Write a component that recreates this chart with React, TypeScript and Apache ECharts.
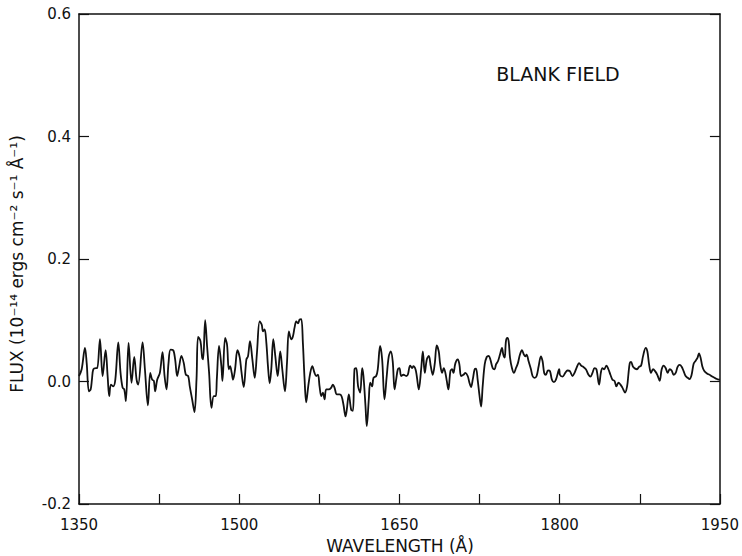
import React, { useEffect, useRef } from "react";
import * as echarts from "echarts";

const wavelength = [
  1350, 1352.5, 1355.6, 1357.2, 1359.3, 1360.9, 1362.1, 1363.4, 1365.9, 1367.1,
  1369.6, 1372.1, 1374.9, 1376.8, 1378.3, 1379.9, 1382.1, 1384.0, 1386.8, 1388.9,
  1390.8, 1392.4, 1393.9, 1396.4, 1399.2, 1401.7, 1403.9, 1405.4, 1409.5, 1411.7,
  1414.5, 1416.7, 1418.5, 1420.1, 1421.3, 1423.2, 1425.7, 1428.2, 1430.1, 1431.9,
  1433.8, 1435.7, 1438.2, 1440.0, 1441.9, 1443.8, 1445.9, 1448.1, 1450.0, 1452.2,
  1453.7, 1455.9, 1458.1, 1460.0, 1461.5, 1463.7, 1465.3, 1466.2, 1468.1, 1469.9,
  1471.8, 1474.0, 1476.2, 1478.0, 1479.0, 1481.1, 1483.3, 1484.3, 1486.8, 1488.6,
  1490.2, 1491.4, 1493.0, 1494.2, 1496.1, 1498.3, 1500.5,
  1502.0, 1504.2, 1506.7, 1508.2, 1510.1, 1512.3, 1514.5, 1516.6, 1519.1, 1521.0,
  1522.3, 1523.8, 1525.4, 1526.9, 1528.5, 1530.0, 1531.9, 1533.8, 1536.0, 1538.4,
  1540.3, 1542.8, 1544.7, 1546.5, 1548.7, 1550.3, 1551.8, 1553.4, 1555.0, 1556.5,
  1558.1, 1559.6, 1561.2, 1562.7, 1564.6, 1566.5, 1568.4, 1570.5, 1572.1, 1573.7,
  1575.2, 1576.8, 1578.3, 1579.9, 1581.4, 1583.9, 1586.1, 1587.7, 1589.2, 1591.4,
  1593.9, 1595.8, 1597.6, 1599.5, 1600.7, 1602.6, 1604.8, 1606.4, 1607.9, 1609.5,
  1611.3, 1613.2, 1615.1, 1616.3, 1618.2, 1619.4, 1621.3, 1622.6, 1624.4, 1625.7,
  1628.2, 1629.7, 1631.9, 1633.8, 1636.0, 1638.1, 1640.0, 1641.9, 1643.7,
  1645.4, 1646.9, 1648.5, 1650.0, 1651.6, 1653.8, 1656.3, 1657.8, 1660.0, 1661.9,
  1663.1, 1665.0, 1666.2, 1668.1, 1670.3, 1671.9, 1673.7, 1675.6, 1677.5, 1679.3,
  1681.2, 1683.1, 1684.9, 1686.8, 1688.0, 1689.9, 1691.5, 1693.0, 1694.3, 1695.8,
  1697.7, 1699.3, 1700.5, 1702.4, 1704.6, 1706.1, 1707.7, 1709.9, 1711.7, 1713.9,
  1715.5, 1717.0, 1718.6, 1720.4, 1721.7, 1723.2, 1724.8, 1726.4, 1727.9, 1729.8,
  1731.7, 1733.5, 1735.1, 1737.3, 1739.1, 1740.4, 1742.2, 1744.1, 1746.0, 1747.2,
  1748.5, 1749.7, 1751.0, 1752.2, 1753.5, 1755.3, 1757.2, 1759.1, 1760.9, 1762.8,
  1764.7, 1766.5, 1767.8, 1769.0, 1770.9, 1773.1, 1774.6, 1776.5, 1778.4, 1780.3,
  1782.4, 1784.0, 1785.5, 1787.1, 1789.0, 1790.9, 1792.7, 1794.6, 1796.5, 1799.6,
  1800.2, 1802.7, 1805.2, 1807.3, 1809.5, 1812.0, 1813.9, 1815.7, 1818.2, 1820.1,
  1822.0, 1824.5, 1827.0, 1828.8, 1830.7, 1832.6, 1834.4, 1836.9, 1838.5, 1840.0,
  1841.6, 1843.8, 1845.6, 1847.5, 1849.4, 1851.3, 1853.1, 1855.0, 1856.9, 1858.7,
  1861.2, 1863.1, 1864.3, 1865.6, 1866.8, 1868.7, 1870.6, 1872.4, 1874.3, 1876.2,
  1878.0, 1880.5, 1882.1, 1883.7, 1885.5, 1887.4, 1889.3, 1891.4, 1893.6, 1895.5,
  1897.4, 1899.2, 1901.1, 1903.0, 1904.8, 1906.7, 1908.6, 1910.4, 1912.3, 1914.2,
  1916.0, 1917.9, 1919.8, 1921.6, 1923.5, 1925.4, 1927.3, 1929.1, 1930.4, 1931.9,
  1933.5, 1935.4, 1937.9, 1940.3, 1942.8, 1945.9, 1949.0, 1950,
];

const flux = [
  0.009, 0.020, 0.055, 0.030, -0.016, -0.013, 0.003, 0.020, 0.022, 0.022,
  0.069, 0.009, 0.051, 0.009, -0.024, -0.005, -0.008, 0.003, 0.064, 0.014,
  -0.010, -0.013, -0.032, 0.063, -0.002, 0.040, 0.003, -0.005, 0.064, 0.020,
  -0.039, 0.014, 0.003, 0.001, -0.016, 0.003, 0.014, 0.048, 0.009, -0.013,
  0.030, 0.052, 0.051, 0.036, 0.009, 0.025, 0.042, 0.030, 0.011, 0.009,
  -0.008, -0.029, -0.050, 0.003, 0.073, 0.066, 0.039, 0.036, 0.100, 0.058,
  0.014, -0.043, -0.024, -0.024, 0.003, 0.058, 0.025, 0.001, 0.071, 0.060,
  0.020, 0.025, 0.014, 0.003, 0.020, 0.051, 0.039,
  0.017, -0.009, 0.036, 0.041, 0.066, 0.036, 0.006, 0.047, 0.098, 0.093,
  0.082, 0.085, 0.063, 0.025, -0.003, 0.020, 0.069, 0.041, 0.009, 0.049,
  0.020, -0.016, 0.030, 0.082, 0.069, 0.074, 0.088, 0.098, 0.095, 0.101,
  0.102, 0.063, 0.003, -0.034, -0.008, 0.014, 0.025, 0.014, 0.009, 0.011,
  -0.008, -0.024, -0.018, -0.029, -0.013, -0.013, -0.010, -0.005, -0.010, -0.021,
  -0.021, -0.024, -0.038, -0.057, -0.046, -0.021, -0.046, -0.048, 0.020, 0.022,
  -0.008, -0.018, 0.022, 0.009, -0.040, -0.073, -0.029, -0.002, -0.008, 0.006,
  0.009, 0.020, 0.058, 0.036, -0.029, 0.009, 0.041, 0.049, 0.033,
  -0.013, 0.003, 0.020, 0.022, 0.009, 0.011, 0.009, 0.011, 0.026, 0.022,
  0.025, 0.020, 0.009, -0.013, 0.020, 0.049, 0.014, 0.036, 0.042, 0.025,
  0.011, 0.030, 0.059, 0.049, 0.030, 0.014, 0.022, 0.014, 0.001, -0.013,
  0.017, 0.020, 0.014, 0.030, 0.036, 0.028, 0.009, 0.011, 0.014, 0.009,
  -0.002, -0.009, 0.003, 0.020, 0.021, 0.003, -0.021, -0.041, -0.008, 0.028,
  0.040, 0.042, 0.036, 0.022, 0.020, 0.028, 0.033, 0.044, 0.055, 0.044,
  0.039, 0.066, 0.071, 0.066, 0.039, 0.022, 0.014, 0.022, 0.030, 0.044,
  0.051, 0.044, 0.041, 0.044, 0.033, 0.020, 0.009, 0.006, 0.009, 0.025,
  0.041, 0.033, 0.014, 0.011, 0.018, 0.017, 0.003, -0.001, 0.003, 0.020,
  0.011, 0.008, 0.014, 0.018, 0.017, 0.009, 0.014, 0.022, 0.030, 0.026,
  0.024, 0.020, 0.011, 0.008, 0.014, 0.022, 0.020, -0.005, 0.014, 0.022,
  0.020, 0.026, 0.020, 0.011, 0.003, 0.001, -0.008, -0.002, -0.005, -0.010,
  -0.018, -0.008, 0.011, 0.030, 0.032, 0.024, 0.021, 0.020, 0.024, 0.026,
  0.041, 0.055, 0.049, 0.028, 0.014, 0.020, 0.017, 0.011, 0.001, 0.020,
  0.026, 0.022, 0.014, 0.020, 0.018, 0.011, 0.014, 0.024, 0.027, 0.024,
  0.017, 0.009, 0.006, 0.004, 0.011, 0.029, 0.034, 0.039, 0.046, 0.039,
  0.025, 0.017, 0.013, 0.011, 0.008, 0.005, 0.003, 0.003,
];

const xMin = 1350;
const xMax = 1950;
const xStep = 150;
const yMin = -0.2;
const yMax = 0.6;
const yStep = 0.2;

const xTitle = "WAVELENGTH (Å)";
const yTitle = "FLUX (10⁻¹⁴ ergs cm⁻² s⁻¹ Å⁻¹)";
const panelLabel = "BLANK FIELD";

const INK = "#111";
const FONT = "DejaVu Sans";

export default function App() {
  const ref = useRef<HTMLDivElement>(null);

  useEffect(() => {
    if (!ref.current) return;
    const chart = echarts.init(ref.current, null, { renderer: "svg" });
    const data = wavelength.map((w, i) => [w, flux[i]]);
    const lineStyle = { color: INK, width: 1.5 };
    const tickStyle = { color: INK, width: 1.2 };
    chart.setOption({
      animation: false,
      backgroundColor: "#fff",
      grid: { left: 79, top: 14, right: 21, bottom: 52 },
      xAxis: [
        {
          type: "value",
          position: "bottom",
          min: xMin,
          max: xMax,
          interval: xStep,
          axisLine: { show: true, onZero: false, lineStyle },
          axisTick: { show: true, inside: true, length: 10, lineStyle: tickStyle },
          minorTick: { show: true, splitNumber: 2, length: 10, lineStyle: tickStyle },
          axisLabel: {
            margin: 13,
            color: INK,
            fontSize: 15,
            fontFamily: FONT,
            formatter: (v: number) => String(v),
          },
          splitLine: { show: false },
          minorSplitLine: { show: false },
        },
        {
          type: "value",
          position: "top",
          min: xMin,
          max: xMax,
          interval: xStep,
          axisLine: { show: true, onZero: false, lineStyle },
          axisTick: { show: false },
          axisLabel: { show: false },
          splitLine: { show: false },
        },
      ],
      yAxis: [
        {
          type: "value",
          position: "left",
          min: yMin,
          max: yMax,
          interval: yStep,
          axisLine: { show: true, onZero: false, lineStyle },
          axisTick: { show: true, inside: true, length: 10, lineStyle: tickStyle },
          axisLabel: {
            margin: 8,
            color: INK,
            fontSize: 15,
            fontFamily: FONT,
            formatter: (v: number) => v.toFixed(1),
          },
          splitLine: { show: false },
        },
        {
          type: "value",
          position: "right",
          min: yMin,
          max: yMax,
          interval: yStep,
          axisLine: { show: true, onZero: false, lineStyle },
          axisTick: { show: true, inside: true, length: 10, lineStyle: tickStyle },
          axisLabel: { show: false },
          splitLine: { show: false },
        },
      ],
      graphic: [
        {
          type: "text",
          x: 400,
          y: 546,
          style: {
            text: xTitle,
            align: "center",
            verticalAlign: "middle",
            fill: INK,
            fontSize: 17,
            fontFamily: FONT,
          },
        },
        {
          type: "text",
          x: 17,
          y: 264,
          rotation: Math.PI / 2,
          style: {
            text: yTitle,
            align: "center",
            verticalAlign: "middle",
            fill: INK,
            fontSize: 17,
            fontFamily: FONT,
          },
        },
        {
          type: "text",
          x: 558,
          y: 74,
          style: {
            text: panelLabel,
            align: "center",
            verticalAlign: "middle",
            fill: INK,
            fontSize: 19,
            fontFamily: FONT,
          },
        },
      ],
      series: [
        {
          type: "line",
          xAxisIndex: 0,
          yAxisIndex: 0,
          data,
          showSymbol: false,
          smooth: 0.35,
          lineStyle: { color: INK, width: 1.8 },
          silent: true,
        },
      ],
    });
    return () => chart.dispose();
  }, []);

  return (
    <div
      ref={ref}
      style={{ position: "absolute", left: 0, top: 0, width: 742, height: 556, background: "#fff" }}
    />
  );
}
